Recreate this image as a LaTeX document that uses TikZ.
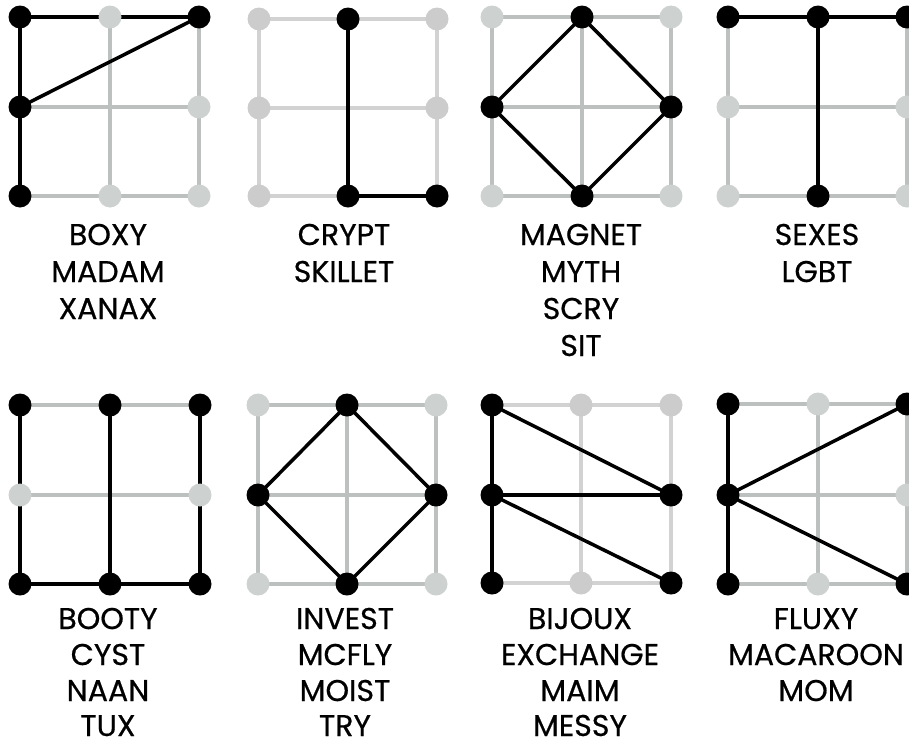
\documentclass[tikz,border=0pt]{standalone}
\usepackage{fontspec}
\setmainfont{Poppins}[FakeBold=0.6]
\definecolor{dotgray}{RGB}{205,209,208}
\definecolor{linegray}{RGB}{188,193,191}
\definecolor{dotgrayb}{RGB}{204,204,204}
\definecolor{linegrayb}{RGB}{210,210,210}
\pgfdeclarelayer{background}
\pgfsetlayers{background,main}
\tikzset{
  bdot/.style={circle, fill=black, inner sep=0pt, minimum size=23pt},
  gdot/.style={circle, fill=dotgray, inner sep=0pt, minimum size=23pt},
  gdotb/.style={circle, fill=dotgrayb, inner sep=0pt, minimum size=23pt},
  gridline/.style={line width=4.5pt, draw=linegray},
  gridlineb/.style={line width=4.5pt, draw=linegrayb},
  blk/.style={line width=3.5pt, draw=black},
  word/.style={anchor=base, inner sep=0pt, text depth=0pt, font=\fontsize{30}{36}\selectfont}
}
\newcommand{\panelgrid}[8]{%
  \node[#8] (#1-tl) at (#2,#5) {};%
  \gridrest{#1}{#2}{#3}{#4}{#5}{#6}{#7}}
\newcommand{\gridrest}[7]{%
  \def\xa{#2}\def\xb{#3}\def\xc{#4}\def\ya{#5}\def\yb{#6}\def\yc{#7}}
\newcommand{\gridnodes}[9]{%
  \node[#2] (#1-tm) at (\xb,\ya) {};%
  \node[#3] (#1-tr) at (\xc,\ya) {};%
  \node[#4] (#1-ml) at (\xa,\yb) {};%
  \node[#5] (#1-mm) at (\xb,\yb) {};%
  \node[#6] (#1-mr) at (\xc,\yb) {};%
  \node[#7] (#1-bl) at (\xa,\yc) {};%
  \node[#8] (#1-bm) at (\xb,\yc) {};%
  \node[#9] (#1-br) at (\xc,\yc) {};}
\newcommand{\graygrid}[2]{%
  \begin{pgfonlayer}{background}
  \draw[#2] (#1-tl.center) -- (#1-tr.center)
            (#1-ml.center) -- (#1-mr.center)
            (#1-bl.center) -- (#1-br.center)
            (#1-tl.center) -- (#1-bl.center)
            (#1-tm.center) -- (#1-bm.center)
            (#1-tr.center) -- (#1-br.center);
  \end{pgfonlayer}}
\newcommand{\blkedges}[2]{%
  \begin{pgfonlayer}{background}
  \foreach \a/\b in {#2} {\draw[blk] (#1-\a.center) -- (#1-\b.center);}
  \end{pgfonlayer}}
\begin{document}
\begin{tikzpicture}[x=1pt,y=-1pt]
\useasboundingbox (0,0) rectangle (909,744);
\clip (0,0) rectangle (909,744);
% Panel 1: BOXY
\panelgrid{p1}{20}{110}{199}{17}{107}{196}{bdot}
\gridnodes{p1}{gdot}{bdot}{bdot}{coordinate}{gdot}{bdot}{gdot}{gdot}
\graygrid{p1}{gridline}
\blkedges{p1}{tl/tr,tl/ml,ml/bl,ml/tr}
% Panel 2: CRYPT
\panelgrid{p2}{259}{348}{437}{19}{108}{196}{gdotb}
\gridnodes{p2}{bdot}{gdotb}{gdotb}{coordinate}{gdotb}{gdotb}{bdot}{bdot}
\graygrid{p2}{gridlineb}
\blkedges{p2}{tm/bm,bm/br}
% Panel 3: MAGNET
\panelgrid{p3}{492}{582}{671}{17}{107}{196}{gdot}
\gridnodes{p3}{bdot}{gdot}{bdot}{coordinate}{bdot}{gdot}{bdot}{gdot}
\graygrid{p3}{gridline}
\blkedges{p3}{tm/ml,tm/mr,ml/bm,mr/bm}
% Panel 4: SEXES
\panelgrid{p4}{728}{818}{907}{17}{107}{196}{bdot}
\gridnodes{p4}{bdot}{bdot}{gdot}{coordinate}{gdot}{gdot}{bdot}{gdot}
\graygrid{p4}{gridline}
\blkedges{p4}{tl/tm,tm/tr,tm/bm}
% Panel 5: BOOTY
\panelgrid{p5}{20}{110}{200}{405}{495}{584}{bdot}
\gridnodes{p5}{bdot}{bdot}{gdot}{coordinate}{gdot}{bdot}{bdot}{bdot}
\graygrid{p5}{gridline}
\blkedges{p5}{tl/bl,tm/bm,tr/br,bl/bm,bm/br}
% Panel 6: INVEST
\panelgrid{p6}{258}{347}{436}{405}{495}{584}{gdot}
\gridnodes{p6}{bdot}{gdot}{bdot}{coordinate}{bdot}{gdot}{bdot}{gdot}
\graygrid{p6}{gridline}
\blkedges{p6}{tm/ml,tm/mr,ml/bm,mr/bm}
% Panel 7: BIJOUX
\panelgrid{p7}{492}{581}{671}{405}{495}{583}{bdot}
\gridnodes{p7}{gdotb}{gdotb}{bdot}{coordinate}{bdot}{bdot}{gdotb}{bdot}
\graygrid{p7}{gridlineb}
\blkedges{p7}{tl/bl,tl/mr,ml/mr,ml/br}
% Panel 8: FLUXY
\panelgrid{p8}{728}{818}{907}{404}{495}{584}{bdot}
\gridnodes{p8}{gdot}{bdot}{bdot}{coordinate}{gdot}{bdot}{gdot}{bdot}
\graygrid{p8}{gridline}
\blkedges{p8}{tl/bl,ml/tr,ml/br}
% Words row 1
\node[word] (w1a) at (108,245) {BOXY};
\node[word] (w1b) at (108,282) {MADAM};
\node[word] (w1c) at (108,319) {XANAX};
\node[word] (w2a) at (344,245) {CRYPT};
\node[word] (w2b) at (344,282) {SKILLET};
\node[word] (w3a) at (581,245) {MAGNET};
\node[word] (w3b) at (581,282) {MYTH};
\node[word] (w3c) at (581,319) {SCRY};
\node[word] (w3d) at (581,356) {SIT};
\node[word] (w4a) at (817,245) {SEXES};
\node[word] (w4b) at (817,282) {LGBT};
% Words row 2
\node[word] (w5a) at (108,629) {BOOTY};
\node[word] (w5b) at (108,665) {CYST};
\node[word] (w5c) at (108,701) {NAAN};
\node[word] (w5d) at (108,736) {TUX};
\node[word] (w6a) at (345,629) {INVEST};
\node[word] (w6b) at (345,665) {MCFLY};
\node[word] (w6c) at (345,701) {MOIST};
\node[word] (w6d) at (345,736) {TRY};
\node[word] (w7a) at (580,629) {BIJOUX};
\node[word] (w7b) at (580,665) {EXCHANGE};
\node[word] (w7c) at (580,701) {MAIM};
\node[word] (w7d) at (580,736) {MESSY};
\node[word] (w8a) at (816,629) {FLUXY};
\node[word] (w8b) at (816,665) {MACAROON};
\node[word] (w8c) at (816,701) {MOM};
\end{tikzpicture}
\end{document}
